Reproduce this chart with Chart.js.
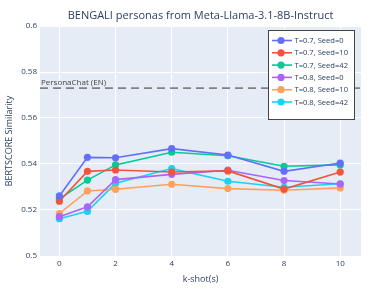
<!DOCTYPE html>
<html lang="en">
<head>
  <meta charset="UTF-8">
  <title>BENGALI personas from Meta-Llama-3.1-8B-Instruct</title>
  <script src="https://cdn.jsdelivr.net/npm/chart.js"></script>
  <style>
    html, body { margin: 0; padding: 0; background: #fff; }
    #wrap { width: 387px; height: 291px; }
  </style>
</head>
<body>
<div id="wrap"><canvas id="chart" width="387" height="291"></canvas></div>
<script>
// k-shot values on the x axis
const kShots = [0, 1, 2, 4, 6, 8, 10];

// BERTSCORE similarity per run
const t07s0  = [0.5261, 0.5429, 0.5427, 0.5467, 0.5439, 0.5368, 0.5404];
const t07s10 = [0.5238, 0.5368, 0.5374, 0.5365, 0.5370, 0.5291, 0.5365];
const t07s42 = [0.5248, 0.5330, 0.5396, 0.5451, 0.5436, 0.5390, 0.5396];
const t08s0  = [0.5171, 0.5214, 0.5332, 0.5355, 0.5373, 0.5328, 0.5313];
const t08s10 = [0.5184, 0.5283, 0.5290, 0.5312, 0.5293, 0.5286, 0.5296];
const t08s42 = [0.5162, 0.5194, 0.5316, 0.5380, 0.5325, 0.5299, 0.5314];

const seriesNames = ["T=0.7, Seed=0", "T=0.7, Seed=10", "T=0.7, Seed=42",
                     "T=0.8, Seed=0", "T=0.8, Seed=10", "T=0.8, Seed=42"];
const seriesData = [t07s0, t07s10, t07s42, t08s0, t08s10, t08s42];
const colors = ["#636efa", "#EF553B", "#00cc96", "#ab63fa", "#FFA15A", "#19d3f3"];

const yTicks = [0.5, 0.52, 0.54, 0.56, 0.58, 0.6];
const xTicks = [0, 2, 4, 6, 8, 10];

// reference line
const baseline = 0.573;
const baselineLabel = "PersonaChat (EN)";

const FONT = '"Open Sans", "Liberation Sans", Arial, sans-serif';
const INK = "#2a3f5f";

const datasets = seriesNames.map((name, i) => ({
  label: name,
  data: kShots.map((k, j) => ({ x: k, y: seriesData[i][j] })),
  borderColor: colors[i],
  backgroundColor: colors[i],
  pointBackgroundColor: colors[i],
  pointBorderWidth: 0,
  pointRadius: 3.6,
  borderWidth: 1.6,
  tension: 0
}));

// plot background, baseline, title and legend box
const decor = {
  id: "decor",
  beforeDraw(chart) {
    const { ctx, chartArea: a } = chart;
    ctx.save();
    ctx.fillStyle = "#E5ECF6";
    ctx.fillRect(a.left, a.top, a.right - a.left, a.bottom - a.top);
    ctx.restore();
  },
  beforeDatasetsDraw(chart) {
    const { ctx, chartArea: a, scales } = chart;
    const y = scales.y.getPixelForValue(baseline);
    ctx.save();
    ctx.strokeStyle = "#808080";
    ctx.lineWidth = 1.6;
    ctx.setLineDash([8, 5]);
    ctx.beginPath();
    ctx.moveTo(a.left, y);
    ctx.lineTo(a.right, y);
    ctx.stroke();
    ctx.setLineDash([]);
    ctx.fillStyle = "#444";
    ctx.font = "8px " + FONT;
    ctx.textBaseline = "alphabetic";
    ctx.textAlign = "left";
    ctx.fillText(baselineLabel, a.left + 1, y - 3);
    ctx.restore();
  },
  afterDraw(chart) {
    const { ctx, chartArea: a } = chart;
    ctx.save();
    // title
    ctx.fillStyle = INK;
    ctx.font = "11px " + FONT;
    ctx.textAlign = "center";
    ctx.textBaseline = "middle";
    ctx.fillText("BENGALI personas from Meta-Llama-3.1-8B-Instruct", (a.left + a.right) / 2, 16);
    // legend
    const bx = 268.5, by = 30.5, bw = 86, bh = 89;
    ctx.fillStyle = "#fff";
    ctx.fillRect(bx, by, bw, bh);
    ctx.strokeStyle = "#444";
    ctx.lineWidth = 1;
    ctx.strokeRect(bx, by, bw, bh);
    ctx.font = "7.6px " + FONT;
    ctx.textAlign = "left";
    chart.data.datasets.forEach((ds, i) => {
      const y = 40.5 + i * 12.3;
      ctx.strokeStyle = ds.borderColor;
      ctx.lineWidth = 1.6;
      ctx.beginPath();
      ctx.moveTo(272, y);
      ctx.lineTo(292, y);
      ctx.stroke();
      ctx.fillStyle = ds.borderColor;
      ctx.beginPath();
      ctx.arc(281, y, 3.6, 0, Math.PI * 2);
      ctx.fill();
      ctx.fillStyle = INK;
      ctx.fillText(ds.label, 294.5, y + 0.5);
    });
    ctx.restore();
  }
};

new Chart(document.getElementById("chart"), {
  type: "line",
  data: { datasets },
  options: {
    responsive: false,
    animation: false,
    layout: { padding: { top: 26, right: 26, left: 0, bottom: 0 } },
    plugins: {
      legend: { display: false },
      title: { display: false },
      tooltip: { enabled: false }
    },
    scales: {
      x: {
        type: "linear",
        min: -0.69,
        max: 10.74,
        afterBuildTicks: s => { s.ticks = xTicks.map(v => ({ value: v })); },
        afterFit: s => { s.height = 35; },
        border: { display: false },
        grid: { color: "#fff", lineWidth: 1, drawTicks: false },
        ticks: { color: INK, font: { family: FONT, size: 8 }, padding: 3, maxRotation: 0 },
        title: { display: true, text: "k-shot(s)", color: INK, font: { family: FONT, size: 9 }, padding: { top: 0, bottom: 6 } }
      },
      y: {
        min: 0.5,
        max: 0.6,
        afterBuildTicks: s => { s.ticks = yTicks.map(v => ({ value: v })); },
        afterFit: s => { s.width = 40; },
        border: { display: false },
        grid: { color: "#fff", lineWidth: 1, drawTicks: false },
        ticks: {
          color: INK, font: { family: FONT, size: 8 }, padding: 3,
          callback: v => String(Number(v.toFixed(2)))
        },
        title: { display: true, text: "BERTSCORE Similarity", color: INK, font: { family: FONT, size: 9 }, padding: { top: 4, bottom: 0 } }
      }
    }
  },
  plugins: [decor]
});
</script>
</body>
</html>
